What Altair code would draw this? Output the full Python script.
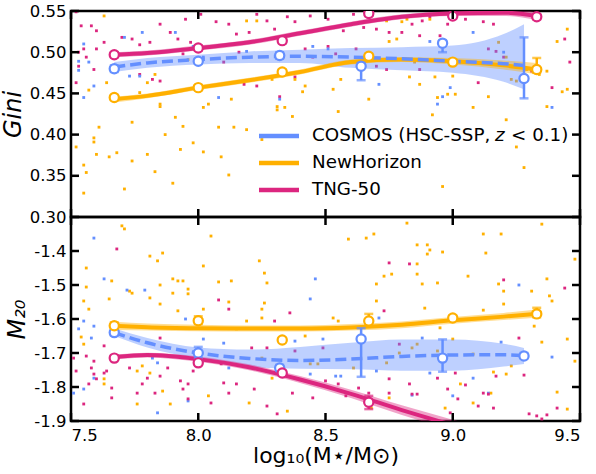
import altair as alt
import pandas as pd

BLUE = "#648FFF"
ORANGE = "#FFB000"
MAGENTA = "#DC267F"
COS = "COSMOS (HSC-SSP, z < 0.1)"
NH = "NewHorizon"
TNG = "TNG-50"
SERIES = [COS, NH, TNG]

# ---------------- scatter points : Gini panel ----------------
g_tng_x = [7.52, 7.54, 7.58, 7.60, 7.63, 7.60, 7.55, 7.53, 7.56, 7.53, 7.52, 7.59, 7.70, 7.74, 7.77, 7.81, 7.85, 7.89, 7.92, 7.95,
           7.82, 7.85, 7.77, 7.94, 7.97, 8.01, 8.07, 8.12, 8.15, 8.20, 8.23, 8.27, 8.30, 8.35, 8.38, 8.44, 8.51, 8.57, 8.61, 8.65,
           8.70, 8.75, 8.10, 8.18, 8.23, 8.32, 8.42, 8.45, 8.51, 8.54, 8.62, 8.70, 8.74, 8.16, 8.38, 8.84, 8.88, 8.91, 8.98, 9.05,
           9.12, 9.16, 8.80, 8.87, 8.95, 9.14, 9.17, 9.10, 9.20, 8.87, 9.44, 9.46, 9.39, 9.31]
g_tng_y = [0.549, 0.532, 0.532, 0.526, 0.512, 0.504, 0.504, 0.500, 0.494, 0.483, 0.463, 0.479, 0.518, 0.516, 0.509, 0.512, 0.534, 0.524, 0.516, 0.540,
           0.467, 0.465, 0.473, 0.498, 0.512, 0.546, 0.537, 0.534, 0.522, 0.524, 0.546, 0.538, 0.528, 0.543, 0.537, 0.544, 0.540, 0.526, 0.546, 0.530,
           0.528, 0.524, 0.488, 0.461, 0.459, 0.446, 0.504, 0.494, 0.507, 0.498, 0.504, 0.483, 0.479, 0.500, 0.470, 0.534, 0.538, 0.543, 0.534, 0.540,
           0.537, 0.534, 0.524, 0.520, 0.520, 0.504, 0.501, 0.463, 0.494, 0.479, 0.516, 0.488, 0.457, 0.477]
g_cos_x = [7.55, 7.53, 7.53, 7.57, 7.59, 7.55, 7.67, 7.71, 7.78, 7.73, 7.77, 7.91, 7.98, 8.08, 8.19, 8.32, 8.45, 8.51, 8.60, 8.71,
           8.02, 8.91, 9.08, 9.20, 8.99, 8.94, 8.96, 9.39, 8.80]
g_cos_y = [0.510, 0.489, 0.478, 0.488, 0.459, 0.445, 0.445, 0.518, 0.524, 0.471, 0.471, 0.524, 0.507, 0.445, 0.501, 0.443, 0.507, 0.504, 0.488, 0.461,
           0.494, 0.513, 0.524, 0.500, 0.457, 0.437, 0.446, 0.433, 0.491]
g_nh_x = [7.63, 7.52, 7.55, 7.56, 7.55, 7.60, 7.65, 7.59, 7.59, 7.61, 7.68, 7.71, 7.74, 7.74, 7.80, 7.83, 7.87, 7.90, 7.93, 7.94,
          7.91, 7.64, 7.57, 7.85, 7.85, 7.83, 7.96, 7.98, 7.77, 7.80, 8.04, 8.02, 8.13, 8.14, 8.08, 8.19, 8.02, 8.09, 8.12, 8.25,
          8.31, 8.31, 8.34, 8.37, 8.38, 8.41, 8.42, 8.55, 8.53, 8.56, 8.67, 8.75, 8.74, 8.19, 8.23, 8.29, 8.80, 8.82, 8.91, 8.78,
          8.85, 8.83, 8.87, 8.93, 9.00, 9.01, 8.98, 8.94, 9.08, 9.14, 9.18, 9.21, 9.23, 9.25, 9.29, 9.34, 9.37, 9.37, 9.41, 9.45,
          9.45, 9.43, 9.21, 9.25, 9.28, 8.96, 8.92]
g_nh_y = [0.544, 0.385, 0.363, 0.354, 0.329, 0.376, 0.373, 0.391, 0.396, 0.409, 0.378, 0.334, 0.368, 0.415, 0.376, 0.355, 0.400, 0.341, 0.382, 0.410,
          0.421, 0.463, 0.454, 0.437, 0.434, 0.473, 0.491, 0.390, 0.451, 0.463, 0.437, 0.433, 0.443, 0.409, 0.409, 0.406, 0.379, 0.373, 0.351, 0.394,
          0.434, 0.430, 0.433, 0.422, 0.467, 0.452, 0.459, 0.428, 0.455, 0.467, 0.443, 0.513, 0.538, 0.538, 0.538, 0.467, 0.537, 0.540, 0.540, 0.516,
          0.488, 0.470, 0.461, 0.470, 0.471, 0.449, 0.449, 0.445, 0.433, 0.446, 0.512, 0.494, 0.467, 0.465, 0.479, 0.473, 0.477, 0.434, 0.513, 0.528,
          0.455, 0.452, 0.418, 0.385, 0.360, 0.337, 0.424]

# ---------------- scatter points : M20 panel ----------------
m_nh_x = [7.70, 7.71, 7.56, 7.56, 7.55, 7.57, 7.54, 7.55, 7.63, 7.63, 7.65, 7.66, 7.73, 7.74, 7.81, 7.86, 7.84, 7.85, 7.81, 7.85,
          7.90, 7.92, 7.94, 7.90, 7.96, 7.96, 7.92, 7.78, 7.81, 7.86, 7.89, 7.76, 7.76, 8.05, 8.02, 8.08, 8.13, 8.24, 8.26, 8.27,
          8.26, 8.25, 8.02, 8.12, 8.19, 8.15, 8.25, 8.53, 8.55, 8.70, 8.73, 8.70, 8.59, 8.66, 8.69, 8.76, 8.35, 8.20, 8.04, 8.42,
          8.25, 8.29, 8.47, 8.44, 8.61, 8.68, 8.75, 8.74, 8.82, 8.86, 8.90, 8.90, 8.91, 8.96, 8.86, 8.86, 8.88, 8.94, 8.89, 9.12,
          9.19, 9.13, 9.06, 9.18, 9.20, 9.20, 9.12, 9.31, 9.37, 9.38, 9.39, 9.48, 9.35, 9.45, 9.32, 8.95, 9.00, 8.86, 8.84, 8.79,
          9.08, 9.23, 9.21, 9.16, 9.03, 8.97, 9.08, 9.15, 9.41, 9.45, 9.48, 9.35, 8.94]
m_nh_y = [-1.326, -1.335, -1.450, -1.506, -1.547, -1.571, -1.653, -1.674, -1.776, -1.791, -1.541, -1.488, -1.518, -1.524, -1.415, -1.406, -1.429, -1.556, -1.538, -1.500,
          -1.482, -1.488, -1.488, -1.524, -1.512, -1.526, -1.576, -1.738, -1.759, -1.812, -1.850, -1.850, -1.753, -1.356, -1.444, -1.491, -1.488, -1.429, -1.465, -1.494,
          -1.553, -1.571, -1.571, -1.550, -1.606, -1.629, -1.597, -1.597, -1.606, -1.497, -1.474, -1.547, -1.365, -1.362, -1.350, -1.468, -1.871, -1.847, -1.826, -1.650,
          -1.715, -1.774, -1.732, -1.732, -1.744, -1.862, -1.832, -1.729, -1.318, -1.382, -1.382, -1.409, -1.397, -1.403, -1.438, -1.468, -1.497, -1.494, -1.568, -1.350,
          -1.350, -1.406, -1.474, -1.497, -1.518, -1.556, -1.574, -1.518, -1.482, -1.532, -1.547, -1.424, -1.668, -1.659, -1.621, -1.626, -1.659, -1.674, -1.685, -1.700,
          -1.703, -1.738, -1.762, -1.756, -1.791, -1.862, -1.847, -1.818, -1.815, -1.865, -1.724, -1.321, -1.694]
m_cos_x = [7.59, 7.63, 7.72, 7.79, 7.53, 7.55, 7.59, 7.58, 7.51, 7.55, 7.59, 7.84, 7.84, 7.82, 7.96, 7.95, 8.46, 8.44, 8.49, 8.71,
           8.02, 8.10, 8.12, 8.44, 8.54, 8.56, 8.70, 8.38, 9.26, 9.19, 9.39, 9.08, 9.14, 9.00, 8.84, 8.88, 8.91]
m_cos_y = [-1.362, -1.482, -1.515, -1.515, -1.629, -1.606, -1.621, -1.656, -1.818, -1.806, -1.774, -1.729, -1.876, -1.715, -1.841, -1.600, -1.482, -1.541, -1.659, -1.597,
           -1.659, -1.671, -1.744, -1.762, -1.768, -1.768, -1.753, -1.665, -1.500, -1.668, -1.712, -1.774, -1.818, -1.826, -1.824, -1.656, -1.759]
m_tng_x = [7.51, 7.52, 7.56, 7.59, 7.58, 7.57, 7.55, 7.59, 7.60, 7.63, 7.64, 7.66, 7.66, 7.68, 7.63, 7.73, 7.76, 7.78, 7.83, 7.85,
           7.85, 7.80, 7.88, 7.93, 7.94, 7.96, 7.96, 7.98, 8.08, 8.12, 8.30, 8.36, 8.21, 8.27, 8.38, 8.49, 8.75, 8.73, 8.09, 8.10,
           8.05, 8.12, 8.15, 8.22, 8.27, 8.31, 8.37, 8.45, 8.50, 8.55, 8.58, 8.63, 8.67, 8.75, 8.75, 8.83, 9.20, 9.44, 9.26, 8.79,
           8.83, 8.84, 8.86, 8.94, 9.01, 8.98, 9.02, 9.05, 9.12, 9.14, 9.16, 9.10, 8.99, 9.28, 9.30, 9.33, 9.37, 9.35, 9.41, 9.17]
m_tng_y = [-1.715, -1.753, -1.709, -1.724, -1.744, -1.791, -1.850, -1.762, -1.776, -1.759, -1.753, -1.803, -1.832, -1.394, -1.679, -1.744, -1.818, -1.791, -1.818, -1.768,
           -1.656, -1.774, -1.744, -1.782, -1.806, -1.835, -1.791, -1.753, -1.544, -1.571, -1.606, -1.582, -1.685, -1.685, -1.694, -1.685, -1.435, -1.576, -1.732, -1.788,
           -1.847, -1.818, -1.791, -1.806, -1.856, -1.879, -1.818, -1.832, -1.782, -1.791, -1.826, -1.803, -1.818, -1.776, -1.818, -1.438, -1.485, -1.509, -1.656, -1.674,
           -1.791, -1.821, -1.821, -1.774, -1.759, -1.806, -1.835, -1.794, -1.818, -1.821, -1.862, -1.856, -1.876, -1.765, -1.879, -1.885, -1.882, -1.894, -1.862, -1.768]

# ---------------- smooth trends with bands ----------------
g_tng_cx = [7.67, 7.8, 8.0, 8.2, 8.4, 8.6, 8.8, 9.0, 9.2, 9.33]
g_tng_cy = [0.497, 0.499, 0.505, 0.512, 0.523, 0.534, 0.543, 0.547, 0.548, 0.544]
g_tng_lo = [0.494, 0.496, 0.502, 0.509, 0.520, 0.531, 0.540, 0.544, 0.544, 0.539]
g_tng_hi = [0.500, 0.502, 0.508, 0.515, 0.526, 0.537, 0.546, 0.550, 0.552, 0.549]
g_nh_cx = [7.67, 7.8, 8.0, 8.2, 8.4, 8.6, 8.8, 9.0, 9.2, 9.33]
g_nh_cy = [0.443, 0.447, 0.457, 0.466, 0.476, 0.488, 0.491, 0.489, 0.484, 0.479]
g_nh_lo = [0.439, 0.444, 0.454, 0.463, 0.473, 0.485, 0.488, 0.485, 0.479, 0.473]
g_nh_hi = [0.446, 0.450, 0.460, 0.469, 0.479, 0.491, 0.494, 0.493, 0.490, 0.487]
g_cos_cx = [7.67, 7.8, 8.0, 8.2, 8.4, 8.6, 8.8, 9.0, 9.2, 9.28]
g_cos_cy = [0.482, 0.487, 0.491, 0.494, 0.495, 0.494, 0.492, 0.489, 0.486, 0.484]
g_cos_lo = [0.476, 0.481, 0.485, 0.487, 0.487, 0.481, 0.478, 0.475, 0.464, 0.455]
g_cos_hi = [0.488, 0.493, 0.497, 0.501, 0.503, 0.505, 0.506, 0.508, 0.522, 0.534]

m_nh_cx = [7.67, 7.8, 8.0, 8.2, 8.4, 8.6, 8.8, 9.0, 9.2, 9.33]
m_nh_cy = [-1.620, -1.624, -1.627, -1.628, -1.628, -1.625, -1.617, -1.604, -1.593, -1.585]
m_nh_lo = [-1.632, -1.634, -1.636, -1.637, -1.637, -1.634, -1.627, -1.614, -1.603, -1.596]
m_nh_hi = [-1.608, -1.613, -1.617, -1.619, -1.619, -1.615, -1.607, -1.594, -1.582, -1.572]
m_cos_cx = [7.67, 7.8, 8.0, 8.2, 8.4, 8.6, 8.8, 9.0, 9.2, 9.28]
m_cos_cy = [-1.640, -1.670, -1.700, -1.716, -1.722, -1.718, -1.710, -1.706, -1.705, -1.708]
m_cos_lo = [-1.650, -1.684, -1.717, -1.742, -1.746, -1.748, -1.752, -1.752, -1.740, -1.732]
m_cos_hi = [-1.628, -1.656, -1.684, -1.690, -1.682, -1.670, -1.660, -1.660, -1.673, -1.685]
m_tng_cx = [7.67, 7.8, 8.0, 8.2, 8.4, 8.6, 8.8, 9.0, 9.2, 9.33]
m_tng_cy = [-1.712, -1.706, -1.718, -1.742, -1.778, -1.820, -1.868, -1.912, -1.955, -1.980]
m_tng_lo = [-1.719, -1.713, -1.726, -1.751, -1.788, -1.832, -1.882, -1.928, -1.973, -2.000]
m_tng_hi = [-1.705, -1.699, -1.710, -1.733, -1.768, -1.808, -1.854, -1.896, -1.937, -1.960]

# ---------------- binned medians with error bars ----------------
bin_x = [7.67, 8.0, 8.33, 8.67, 9.0, 9.33]
bin_x_cos = [7.67, 8.0, 8.32, 8.64, 8.96, 9.28]
g_tng_py = [0.497, 0.505, 0.514, 0.547, 0.544, 0.543]
g_tng_plo = [0.494, 0.502, 0.511, 0.544, 0.541, 0.540]
g_tng_phi = [0.500, 0.508, 0.517, 0.550, 0.547, 0.546]
g_nh_py = [0.445, 0.457, 0.476, 0.495, 0.488, 0.479]
g_nh_plo = [0.442, 0.454, 0.473, 0.492, 0.485, 0.475]
g_nh_phi = [0.448, 0.460, 0.479, 0.498, 0.491, 0.493]
g_cos_py = [0.480, 0.489, 0.496, 0.483, 0.511, 0.468]
g_cos_plo = [0.476, 0.486, 0.492, 0.466, 0.500, 0.444]
g_cos_phi = [0.484, 0.492, 0.500, 0.487, 0.514, 0.518]

m_tng_bx = [7.67, 8.0, 8.33, 8.67]
m_tng_py = [-1.715, -1.729, -1.759, -1.845]
m_tng_plo = [-1.720, -1.735, -1.765, -1.865]
m_tng_phi = [-1.708, -1.722, -1.752, -1.826]
m_nh_py = [-1.620, -1.605, -1.662, -1.606, -1.597, -1.585]
m_nh_plo = [-1.630, -1.615, -1.668, -1.615, -1.605, -1.595]
m_nh_phi = [-1.610, -1.592, -1.656, -1.585, -1.590, -1.567]
m_cos_py = [-1.640, -1.700, -1.744, -1.659, -1.715, -1.709]
m_cos_plo = [-1.648, -1.715, -1.750, -1.770, -1.755, -1.715]
m_cos_phi = [-1.632, -1.682, -1.735, -1.627, -1.660, -1.700]

x_ticks = [7.5, 8.0, 8.5, 9.0, 9.5]
g_ticks = [0.30, 0.35, 0.40, 0.45, 0.50, 0.55]
m_ticks = [-1.9, -1.8, -1.7, -1.6, -1.5, -1.4]

W = 509
H_TOP = 206
H_BOT = 204
FONT = "DejaVu Sans"


def scat(xs, ys, name):
    return pd.DataFrame({"x": xs, "y": ys, "series": name})


def curve(xs, ys, lo, hi, name):
    return pd.DataFrame({"x": xs, "y": ys, "lo": lo, "hi": hi, "series": name})


cscale = alt.Scale(domain=SERIES, range=[BLUE, ORANGE, MAGENTA])


def legend_layers():
    layers = []
    colors = [BLUE, ORANGE, MAGENTA]
    for i, c in enumerate(colors):
        yy = 125 + 27 * i
        layers.append(alt.Chart(pd.DataFrame({"k": [SERIES[i]]})).mark_rule(strokeWidth=4.5, color=c).encode(
            x=alt.value(188), x2=alt.value(228), y=alt.value(yy)))
    txt = [(241, 125, "COSMOS (HSC-SSP,", "normal"), (424, 125, "z", "italic"), (440, 125, "< 0.1)", "normal"),
           (241, 152, NH, "normal"), (241, 179, TNG, "normal")]
    for x0, y0, s, st in txt:
        layers.append(alt.Chart(pd.DataFrame({"label": [s]})).mark_text(
            align="left", baseline="middle", font=FONT, fontSize=18.3, fontStyle=st, color="black").encode(
            x=alt.value(x0), y=alt.value(y0), text="label:N"))
    return layers


def panel(scatter_df, curves_df, pts_df, ydom, yticks, ytitle, bottom, height, legend):
    xs = alt.Scale(domain=[7.5, 9.5], nice=False, zero=False)
    ys = alt.Scale(domain=ydom, nice=False, zero=False)
    if bottom:
        xaxis = alt.Axis(values=x_ticks, format=".1f", ticks=False, domain=False, grid=False,
                         labelPadding=6, title="log₁₀(M⋆/M⊙)", titlePadding=2, titleFontSize=22)
        yaxis = alt.Axis(values=yticks, ticks=False, domain=False, grid=False,
                         labelExpr="replace(format(datum.value, '.1f'), '\u2212', '-')",
                         labelPadding=5, title=ytitle, titleFontStyle="italic", titlePadding=4)
    else:
        xaxis = None
        yaxis = alt.Axis(values=yticks, format=".2f", ticks=False, domain=False, grid=False,
                         labelPadding=5, title=ytitle, titleFontStyle="italic", titlePadding=4)

    def X(f):
        return alt.X(f"{f}:Q", scale=xs, axis=xaxis)

    def Y(f):
        return alt.Y(f"{f}:Q", scale=ys, axis=yaxis)

    col = alt.Color("series:N", scale=cscale, legend=None)

    pts = alt.Chart(scatter_df).mark_square(size=8, opacity=1).encode(x=X("x"), y=Y("y"), color=col)

    band = alt.Chart(curves_df).mark_area(opacity=0.42, clip=True, interpolate="monotone").encode(
        x=X("x"), y=Y("lo"), y2="hi:Q", color=col)

    solid_df = curves_df[curves_df.series != COS]
    dash_df = curves_df[curves_df.series == COS]
    solid = alt.Chart(solid_df).mark_line(strokeWidth=4, clip=True, interpolate="monotone").encode(
        x=X("x"), y=Y("y"), color=col)
    dashed = alt.Chart(dash_df).mark_line(strokeWidth=3.5, strokeDash=[11, 5], clip=True, interpolate="monotone").encode(
        x=X("x"), y=Y("y"), color=col)

    err = alt.Chart(pts_df).mark_rule(strokeWidth=2.5, clip=True).encode(
        x=X("x"), y=Y("plo"), y2="phi:Q", color=col)
    cap_lo = alt.Chart(pts_df).mark_tick(orient="horizontal", thickness=2.5, size=9, clip=True).encode(
        x=X("x"), y=Y("plo"), color=col)
    cap_hi = alt.Chart(pts_df).mark_tick(orient="horizontal", thickness=2.5, size=9, clip=True).encode(
        x=X("x"), y=Y("phi"), color=col)
    circ = alt.Chart(pts_df).mark_point(shape="circle", filled=False, fill="white", fillOpacity=1, size=85,
                                        strokeWidth=2.2, opacity=1, clip=True).encode(
        x=X("x"), y=Y("py"), color=col)

    xt = pd.DataFrame({"t": x_ticks})
    yt = pd.DataFrame({"t": yticks})
    tb = alt.Chart(xt).mark_rule(color="black", strokeWidth=2.5).encode(
        x=X("t"), y=alt.value(height), y2=alt.value(height - 8))
    tt = alt.Chart(xt).mark_rule(color="black", strokeWidth=2.5).encode(
        x=X("t"), y=alt.value(0), y2=alt.value(8))
    tl = alt.Chart(yt).mark_rule(color="black", strokeWidth=2.5).encode(
        y=Y("t"), x=alt.value(0), x2=alt.value(8))
    tr = alt.Chart(yt).mark_rule(color="black", strokeWidth=2.5).encode(
        y=Y("t"), x=alt.value(W - 8), x2=alt.value(W))

    layers = [pts, band, solid, dashed, err, cap_lo, cap_hi, circ, tb, tt, tl, tr]
    if legend:
        layers += legend_layers()
    return alt.layer(*layers).properties(width=W, height=height)


g_scatter = pd.concat([scat(g_tng_x, g_tng_y, TNG), scat(g_cos_x, g_cos_y, COS), scat(g_nh_x, g_nh_y, NH)])
g_curves = pd.concat([curve(g_cos_cx, g_cos_cy, g_cos_lo, g_cos_hi, COS),
                      curve(g_nh_cx, g_nh_cy, g_nh_lo, g_nh_hi, NH),
                      curve(g_tng_cx, g_tng_cy, g_tng_lo, g_tng_hi, TNG)])
g_pts = pd.concat([
    pd.DataFrame({"x": bin_x_cos, "py": g_cos_py, "plo": g_cos_plo, "phi": g_cos_phi, "series": COS}),
    pd.DataFrame({"x": bin_x, "py": g_nh_py, "plo": g_nh_plo, "phi": g_nh_phi, "series": NH}),
    pd.DataFrame({"x": bin_x, "py": g_tng_py, "plo": g_tng_plo, "phi": g_tng_phi, "series": TNG}),
])

m_scatter = pd.concat([scat(m_nh_x, m_nh_y, NH), scat(m_cos_x, m_cos_y, COS), scat(m_tng_x, m_tng_y, TNG)])
m_curves = pd.concat([curve(m_cos_cx, m_cos_cy, m_cos_lo, m_cos_hi, COS),
                      curve(m_nh_cx, m_nh_cy, m_nh_lo, m_nh_hi, NH),
                      curve(m_tng_cx, m_tng_cy, m_tng_lo, m_tng_hi, TNG)])
m_pts = pd.concat([
    pd.DataFrame({"x": bin_x_cos, "py": m_cos_py, "plo": m_cos_plo, "phi": m_cos_phi, "series": COS}),
    pd.DataFrame({"x": bin_x, "py": m_nh_py, "plo": m_nh_plo, "phi": m_nh_phi, "series": NH}),
    pd.DataFrame({"x": m_tng_bx, "py": m_tng_py, "plo": m_tng_plo, "phi": m_tng_phi, "series": TNG}),
])

top = panel(g_scatter, g_curves, g_pts, [0.30, 0.55], g_ticks, "Gini", False, H_TOP, True)
bot = panel(m_scatter, m_curves, m_pts, [-1.9, -1.3], m_ticks, "M₂₀", True, H_BOT, False)

chart = alt.vconcat(top, bot, spacing=0, bounds="flush").properties(
    padding={"left": 0, "top": 1, "right": 12, "bottom": 0}
).configure_view(
    stroke="black", strokeWidth=2.5
).configure_axis(
    labelFont=FONT, labelFontSize=16.5, labelColor="black",
    titleFont=FONT, titleFontSize=24, titleFontWeight="normal", titleColor="black"
)

chart.save("out.html", embed_options={"renderer": "svg", "actions": False})
